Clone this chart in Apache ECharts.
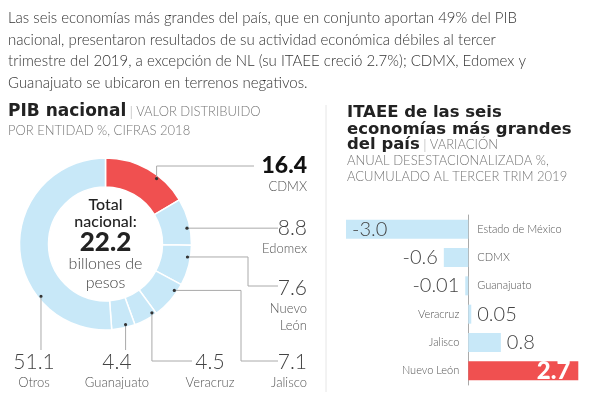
<!DOCTYPE html>
<html><head><meta charset="utf-8">
<script src="https://cdn.jsdelivr.net/npm/echarts@6/dist/echarts.min.js"></script>
<style>html,body{margin:0;padding:0;background:#fff}#c{width:598px;height:398px}</style>
</head><body><div id="c"></div>
<script>
// ---- Data ----
const pieNames = ['CDMX', 'Edomex', 'Nuevo\nLeón', 'Jalisco', 'Veracruz', 'Guanajuato', 'Otros'];
const pieValues = [16.4, 8.8, 7.6, 7.1, 4.5, 4.4, 51.1];
const totalLabel = '22.2';
const barCategories = ['Estado de México', 'CDMX', 'Guanajuato', 'Veracruz', 'Jalisco', 'Nuevo León'];
const barValues = [-3.0, -0.6, -0.01, 0.05, 0.8, 2.7];

// ---- Layout / style ----
const FONT = 'Lato, "Open Sans", sans-serif';
const TFONT = '"DejaVu Sans", sans-serif';
const RED = '#f05050', BLUE = '#c8e8f8';
const pieC = [105.5, 244], pieR = [57, 86];
const anchorAngles = [38, 79, 99, 124, 146, 166, 231];
const anchorR = 83;
function anchor(i){const a = anchorAngles[i]*Math.PI/180;return [pieC[0]+anchorR*Math.sin(a), pieC[1]-anchorR*Math.cos(a)];}
const routes = [
  p=>[[p[0],166],[254,166]],
  p=>[[278,p[1]]],
  p=>[[248,p[1]],[248,286],[278,286]],
  p=>[[241,p[1]],[241,361],[278,361]],
  p=>[[p[0],361],[192,361]],
  p=>[[p[0],350]],
  p=>[[p[0],350]]
];
const labelPos = [
  {x:307,y:166,align:'right'},
  {x:307,y:228,align:'right'},
  {x:307,y:288,align:'right'},
  {x:307,y:362,align:'right'},
  {x:210,y:362,align:'center'},
  {x:117,y:362,align:'center'},
  {x:34,y:362,align:'center'}
];

const graphics = [];
function txt(x, y, text, font, fill, align, extra){
  align = align || 'left';
  graphics.push(Object.assign({type:'text', x:x, y:y, z:11, style:Object.assign({text:text, font:font, fill:fill,
    align:align, verticalAlign:'middle', textAlign:align, textVerticalAlign:'middle'}, extra||{})}));
}
// paragraph
const para = ['Las seis economías más grandes del país, que en conjunto aportan 49% del PIB',
  'nacional, presentaron resultados de su actividad económica débiles al tercer',
  'trimestre del 2019, a excepción de NL (su ITAEE creció 2.7%); CDMX, Edomex y',
  'Guanajuato se ubicaron en terrenos negativos.'];
para.forEach((t,i)=>txt(8, 18 + i*21.8, t, '300 15px '+FONT, '#333'));
// left title
graphics.push({type:'text', x:8, y:112, style:{
  text:'{b|PIB nacional} {p||} {s|VALOR DISTRIBUIDO}',
  verticalAlign:'middle', textVerticalAlign:'middle',
  rich:{b:{font:'bold 17px '+TFONT, fill:'#222'},
        p:{font:'300 14px '+FONT, fill:'#aaa'},
        s:{font:'300 13px '+FONT, fill:'#777'}}}});
txt(8, 131, 'POR ENTIDAD %, CIFRAS 2018', '300 13px '+FONT, '#777');
// right title
txt(347, 113, 'ITAEE de las seis', 'bold 16.5px '+TFONT, '#222');
txt(347, 129.5, 'economías más grandes', 'bold 16.5px '+TFONT, '#222');
graphics.push({type:'text', x:347, y:145, style:{
  text:'{b|del país} {p||} {s|VARIACIÓN}',
  verticalAlign:'middle', textVerticalAlign:'middle',
  rich:{b:{font:'bold 16.5px '+TFONT, fill:'#222'},
        p:{font:'300 14px '+FONT, fill:'#aaa'},
        s:{font:'300 13px '+FONT, fill:'#777'}}}});
txt(347, 161, 'ANUAL DESESTACIONALIZADA %,', '300 13px '+FONT, '#777');
txt(347, 177, 'ACUMULADO AL TERCER TRIM 2019', '300 13px '+FONT, '#777');
// separator
graphics.push({type:'line', shape:{x1:326,y1:105,x2:326,y2:392}, style:{stroke:'#e6e6e6', lineWidth:1}});
// center text
txt(pieC[0], 205, 'Total', '500 16px '+FONT, '#222', 'center');
txt(pieC[0], 222, 'nacional:', '500 16px '+FONT, '#222', 'center');
txt(pieC[0], 243, totalLabel, '900 26px '+FONT, '#222', 'center');
txt(pieC[0], 264, 'billones de', '300 16px '+FONT, '#444', 'center');
txt(pieC[0], 283, 'pesos', '300 16px '+FONT, '#444', 'center');
// leader lines + labels
pieValues.forEach((v,i)=>{
  const p = anchor(i);
  const pts = [p].concat(routes[i](p));
  graphics.push({type:'polyline', shape:{points:pts}, style:{stroke:'#aaa', lineWidth:1, fill:null}, z:10});
  graphics.push({type:'circle', shape:{cx:p[0], cy:p[1], r:1.6}, style:{fill:'#333'}, z:11});
  const lp = labelPos[i];
  const big = i===0;
  txt(lp.x, lp.y, v.toFixed(1), big ? '900 23px '+FONT : '300 21px '+FONT, big?'#111':'#444', lp.align);
  graphics.push({type:'text', x:lp.x, y:lp.y+12, z:11, style:{text:pieNames[i],
    font:'300 13px '+FONT, fill:'#555', lineHeight:17,
    align:lp.align, verticalAlign:'top', textAlign:lp.align, textVerticalAlign:'top'}});
});

function fmt(v){return Number.isInteger(Math.round(v*10*1e6)/1e6) ? v.toFixed(1) : String(v);}

const option = {
  animation:false,
  grid:{left:346, right:19.7, top:215, bottom:13},
  xAxis:{type:'value', min:-3, max:2.7, show:false},
  yAxis:{type:'category', inverse:true, data:barCategories,
    axisLine:{show:true, onZero:true, lineStyle:{color:'#aaa', width:1}},
    axisTick:{show:false}, axisLabel:{show:false}, splitLine:{show:false}},
  series:[
    {type:'pie', center:pieC, radius:pieR, startAngle:90, clockwise:true, silent:true,
     label:{show:false}, labelLine:{show:false},
     itemStyle:{borderColor:'#fff', borderWidth:1.5},
     data: pieValues.map((v,i)=>({name:pieNames[i], value:v, itemStyle:{color: i===0?RED:BLUE}}))},
    {type:'bar', barWidth:19, barMinHeight:3, silent:true,
     data: barValues.map((v,i)=>{
       const last = i===barValues.length-1;
       let pos, color='#444', weight=300, size=20, dist=6;
       if (last) {pos='insideRight'; color='#fff'; weight=900; size=24; dist=8;}
       else if (v<=-2) {pos='insideLeft';}
       else if (v<0) pos='left'; else pos='right';
       return {value:v, itemStyle:{color: last?RED:BLUE},
         label:{show:true, position:pos, distance:dist, formatter:fmt(v), color:color,
           fontSize:size, fontWeight:weight, fontFamily:FONT}};
     })},
    {type:'bar', barWidth:19, barGap:'-100%', silent:true, itemStyle:{color:'transparent'},
     data: barValues.map((v,i)=>({value:0,
       label:{show:true, position: v<0?'right':'left', distance:9, formatter:barCategories[i],
         color:'#555', fontSize:11, fontWeight:300, fontFamily:FONT}}))}
  ],
  graphic: graphics
};
const chart = echarts.init(document.getElementById('c'), null, {renderer:'canvas'});
chart.setOption(option);
</script></body></html>
